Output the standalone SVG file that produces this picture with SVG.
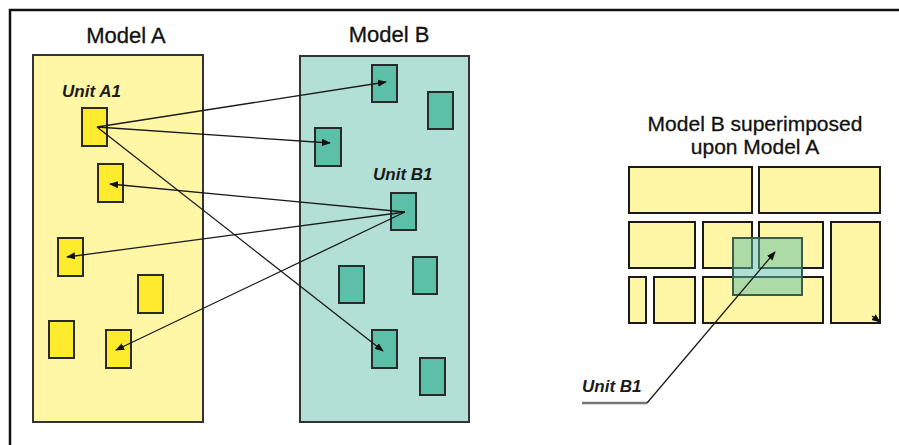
<svg xmlns="http://www.w3.org/2000/svg" width="899" height="445" viewBox="0 0 899 445">
<defs>
<marker id="ah" viewBox="0 0 10 10" refX="9" refY="5" markerWidth="9" markerHeight="9" markerUnits="userSpaceOnUse" orient="auto">
<path d="M0,1 L10,5 L0,9 Z" fill="#111"/>
</marker>
<style>
.title{font-family:"Liberation Sans",Arial,sans-serif;font-size:22px;fill:#111;stroke:#111;stroke-width:0.3;text-anchor:middle}
.sub{font-size:21px}
.unit{font-family:"Liberation Sans",Arial,sans-serif;font-size:17px;font-weight:bold;font-style:italic;fill:#1a1a1a}
.modelA{fill:#FFF6A6;stroke:#333;stroke-width:2}
.modelB{fill:#B2E0D7;stroke:#333;stroke-width:2}
.ua{fill:#FFEB2E;stroke:#2a2a2a;stroke-width:2}
.ub{fill:#5CBFA7;stroke:#2a2a2a;stroke-width:2}
.sa{fill:#FFF6A6;stroke:#1a1a1a;stroke-width:2}
.ov{fill:#5CBFA7;fill-opacity:0.5;stroke:#3a5a4a;stroke-width:2}
.con{stroke:#1a1a1a;stroke-width:1.3;fill:none}
</style>
</defs>
<rect width="899" height="445" fill="#fff"/>
<path d="M10,445 L10,10 L899,10" fill="none" stroke="#111" stroke-width="2.5"/>

<g id="modelA">
<rect class="modelA" x="33" y="55" width="170" height="367"/>
<text class="title" x="126" y="43">Model A</text>
</g>
<g id="modelB">
<rect class="modelB" x="300" y="56" width="169" height="366"/>
<text class="title" x="389" y="42">Model B</text>
</g>

<g id="unitA1"><rect class="ua" x="82" y="108" width="25" height="38"/><text class="unit" x="62" y="97">Unit A1</text></g>
<g id="a2"><rect class="ua" x="98" y="164" width="25" height="38"/></g>
<g id="a3"><rect class="ua" x="58" y="238" width="25" height="38"/></g>
<g id="a4"><rect class="ua" x="138" y="275" width="25" height="38"/></g>
<g id="a5"><rect class="ua" x="49" y="321" width="25" height="37"/></g>
<g id="a6"><rect class="ua" x="106" y="330" width="25" height="38"/></g>

<g id="b1"><rect class="ub" x="372" y="65" width="25" height="37"/></g>
<g id="b2"><rect class="ub" x="428" y="92" width="25" height="37"/></g>
<g id="b3"><rect class="ub" x="315" y="128" width="26" height="38"/></g>
<g id="unitB1"><rect class="ub" x="391" y="193" width="25" height="37"/><text class="unit" x="373" y="180">Unit B1</text></g>
<g id="b5"><rect class="ub" x="339" y="266" width="25" height="37"/></g>
<g id="b6"><rect class="ub" x="413" y="257" width="24" height="37"/></g>
<g id="b7"><rect class="ub" x="372" y="330" width="25" height="38"/></g>
<g id="b8"><rect class="ub" x="420" y="358" width="25" height="37"/></g>

<g id="superimposed">
<text class="title sub" x="755" y="131">Model B superimposed</text>
<text class="title sub" x="755" y="154">upon Model A</text>
<rect class="sa" x="629" y="167" width="123" height="46"/>
<rect class="sa" x="759" y="167" width="121" height="46"/>
<rect class="sa" x="629" y="222" width="66" height="46"/>
<rect class="sa" x="703" y="222" width="49" height="46"/>
<rect class="sa" x="759" y="222" width="64" height="46"/>
<rect class="sa" x="831" y="222" width="49" height="101"/>
<rect class="sa" x="629" y="277" width="17" height="46"/>
<rect class="sa" x="654" y="277" width="41" height="46"/>
<rect class="sa" x="703" y="277" width="120" height="46"/>
<rect class="ov" x="733" y="238" width="69" height="57"/>
<path d="M872,316 L880,322" class="con" marker-end="url(#ah)"/>
</g>

<g id="connectors">
<line class="con" x1="97" y1="127" x2="386" y2="82" marker-end="url(#ah)"/>
<line class="con" x1="97" y1="127" x2="330" y2="143" marker-end="url(#ah)"/>
<line class="con" x1="97" y1="127" x2="383" y2="351" marker-end="url(#ah)"/>
<line class="con" x1="405" y1="212" x2="110" y2="184" marker-end="url(#ah)"/>
<line class="con" x1="405" y1="212" x2="67" y2="257" marker-end="url(#ah)"/>
<line class="con" x1="405" y1="212" x2="116" y2="350" marker-end="url(#ah)"/>
</g>

<g id="labelB1">
<text class="unit" x="582" y="392">Unit B1</text>
<line x1="582" y1="403" x2="647" y2="403" stroke="#777" stroke-width="2.5"/>
<path class="con" d="M647,403 L775,252" marker-end="url(#ah)"/>
</g>
</svg>
